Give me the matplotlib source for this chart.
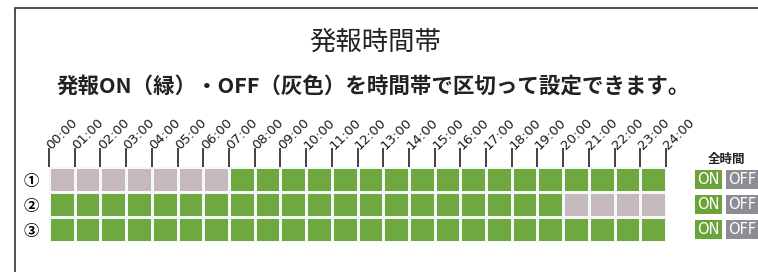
import matplotlib
matplotlib.use("Agg")
import matplotlib.pyplot as plt
import matplotlib.transforms as mtransforms
from matplotlib.colors import ListedColormap
from matplotlib.patches import Rectangle
import numpy as np

plt.rcParams['font.family'] = ['Noto Sans CJK JP', 'DejaVu Sans']

hours = ["%02d:00" % h for h in range(25)]
row_labels = ["①", "②", "③"]
# 1 = ON (green), 0 = OFF (gray)
row1 = [0]*7 + [1]*17
row2 = [1]*20 + [0]*4
row3 = [1]*24
title = "発報時間帯"
subtitle = "発報ON（緑）・OFF（灰色）を時間帯で区切って設定できます。"

green = "#6fa83f"
gray = "#c6b9bd"

fig = plt.figure(figsize=(7.58, 2.72), dpi=100)
fig.patch.set_facecolor("white")

# frame around the panel
fig.add_artist(Rectangle((15/758, -0.2), 1.0, 1.2 - 8/272, transform=fig.transFigure,
                         fill=False, edgecolor="#333333", linewidth=1.2))

fig.text(0.495, 0.846, title, ha="center", va="center", fontsize=19, color="#222222")
fig.text(0.493, 0.683, subtitle, ha="center", va="center", fontsize=15.5,
         fontweight="bold", color="#222222")

ax = fig.add_axes([49/758, 1-242/272, 617/758, 75/272])
grid = np.array([row1, row2, row3])
ax.pcolormesh(np.arange(25), np.arange(4), grid, cmap=ListedColormap([gray, green]),
              vmin=0, vmax=1, edgecolors="#f4f8f8", linewidth=1.0)
ax.set_xlim(0, 24)
ax.set_ylim(3, 0)
for s in ax.spines.values():
    s.set_visible(False)

ax.xaxis.tick_top()
ax.set_xticks(range(25))
ax.set_xticklabels(hours, rotation=45, rotation_mode="anchor", ha="left", va="center",
                   fontsize=9.5, family=["DejaVu Sans"], color="#1a1a1a")
ax.tick_params(axis="x", length=14, width=1.3, color="#333333", pad=0)
ax.set_yticks([0.5, 1.5, 2.5])
ax.set_yticklabels(row_labels, fontsize=11, fontweight="bold")
ax.tick_params(axis="y", length=0, pad=7)

# all-hours ON / OFF buttons
tr = mtransforms.blended_transform_factory(ax.transAxes, ax.transData)
ax.text(1.098, -0.3, "全時間", transform=tr, ha="center", va="center",
        fontsize=9, fontweight="bold", color="#222222")
for i in range(3):
    ax.text(1.069, i + 0.5, "ON", transform=tr, ha="center", va="center",
            fontsize=10.5, color="white", family=["DejaVu Sans"],
            bbox=dict(boxstyle="square,pad=0.15", facecolor="#6aa338", edgecolor="none"))
    ax.text(1.124, i + 0.5, "OFF", transform=tr, ha="center", va="center",
            fontsize=10.5, color="white", family=["DejaVu Sans"], clip_on=False,
            bbox=dict(boxstyle="square,pad=0.15", facecolor="#8c8c94", edgecolor="none"))

fig.savefig("out.png", dpi=100)
